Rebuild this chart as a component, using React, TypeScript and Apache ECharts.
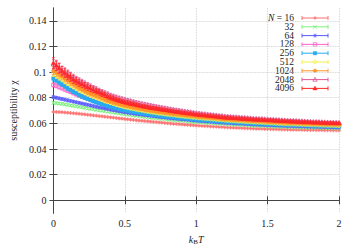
import React, { useEffect, useRef } from "react";
import * as echarts from "echarts";

const temperatures = [
  0, 0.02, 0.04, 0.06, 0.08, 0.1, 0.12, 0.14, 0.16, 0.18, 0.2,
  0.22, 0.24, 0.26, 0.28, 0.3, 0.32, 0.34, 0.36, 0.38, 0.4,
  0.42, 0.44, 0.46, 0.48, 0.5, 0.52, 0.54, 0.56, 0.58, 0.6,
  0.62, 0.64, 0.66, 0.68, 0.7, 0.72, 0.74, 0.76, 0.78, 0.8,
  0.82, 0.84, 0.86, 0.88, 0.9, 0.92, 0.94, 0.96, 0.98, 1.0,
  1.02, 1.04, 1.06, 1.08, 1.1, 1.12, 1.14, 1.16, 1.18, 1.2,
  1.22, 1.24, 1.26, 1.28, 1.3, 1.32, 1.34, 1.36, 1.38, 1.4,
  1.42, 1.44, 1.46, 1.48, 1.5, 1.52, 1.54, 1.56, 1.58, 1.6,
  1.62, 1.64, 1.66, 1.68, 1.7, 1.72, 1.74, 1.76, 1.78, 1.8,
  1.82, 1.84, 1.86, 1.88, 1.9, 1.92, 1.94, 1.96, 1.98, 2.0,
];

const sizes = ["16", "32", "64", "128", "256", "512", "1024", "2048", "4096"];

const chi16 = [
  0.0690, 0.0689, 0.0688, 0.0687, 0.0685, 0.0683, 0.0681, 0.0679, 0.0677, 0.0675, 0.0672,
  0.0670, 0.0667, 0.0665, 0.0662, 0.0660, 0.0657, 0.0655, 0.0652, 0.0650, 0.0647,
  0.0645, 0.0642, 0.0639, 0.0637, 0.0634, 0.0632, 0.0629, 0.0627, 0.0624, 0.0622,
  0.0620, 0.0618, 0.0616, 0.0614, 0.0612, 0.0610, 0.0608, 0.0606, 0.0603, 0.0601,
  0.0599, 0.0597, 0.0596, 0.0594, 0.0592, 0.0590, 0.0589, 0.0587, 0.0585, 0.0583,
  0.0582, 0.0580, 0.0579, 0.0578, 0.0576, 0.0575, 0.0574, 0.0572, 0.0571, 0.0569,
  0.0568, 0.0567, 0.0566, 0.0565, 0.0564, 0.0563, 0.0562, 0.0561, 0.0560, 0.0559,
  0.0558, 0.0558, 0.0557, 0.0556, 0.0556, 0.0555, 0.0554, 0.0554, 0.0553, 0.0552,
  0.0552, 0.0551, 0.0551, 0.0550, 0.0550, 0.0550, 0.0549, 0.0549, 0.0548, 0.0548,
  0.0548, 0.0547, 0.0547, 0.0547, 0.0546, 0.0546, 0.0546, 0.0545, 0.0545, 0.0545,
];
const err16 = [
  0.0006, 0.0006, 0.0006, 0.0006, 0.0006, 0.0006, 0.0006, 0.0006, 0.0006, 0.0006, 0.0006,
  0.0006, 0.0006, 0.0006, 0.0006, 0.0006, 0.0006, 0.0006, 0.0006, 0.0006, 0.0006,
  0.0006, 0.0006, 0.0006, 0.0006, 0.0006, 0.0006, 0.0006, 0.0006, 0.0006, 0.0006,
  0.0006, 0.0006, 0.0006, 0.0006, 0.0006, 0.0006, 0.0006, 0.0006, 0.0006, 0.0006,
  0.0006, 0.0006, 0.0006, 0.0006, 0.0006, 0.0006, 0.0006, 0.0006, 0.0006, 0.0006,
  0.0005, 0.0005, 0.0005, 0.0005, 0.0005, 0.0005, 0.0005, 0.0005, 0.0005, 0.0005,
  0.0005, 0.0005, 0.0005, 0.0005, 0.0005, 0.0005, 0.0005, 0.0005, 0.0005, 0.0005,
  0.0005, 0.0005, 0.0005, 0.0005, 0.0005, 0.0005, 0.0005, 0.0005, 0.0005, 0.0005,
  0.0005, 0.0005, 0.0005, 0.0005, 0.0005, 0.0005, 0.0005, 0.0005, 0.0005, 0.0005,
  0.0005, 0.0005, 0.0005, 0.0005, 0.0005, 0.0005, 0.0005, 0.0005, 0.0005, 0.0005,
];

const chi32 = [
  0.0760, 0.0758, 0.0755, 0.0752, 0.0748, 0.0744, 0.0740, 0.0737, 0.0733, 0.0729, 0.0725,
  0.0721, 0.0717, 0.0713, 0.0710, 0.0706, 0.0702, 0.0699, 0.0695, 0.0692, 0.0688,
  0.0685, 0.0681, 0.0678, 0.0674, 0.0671, 0.0668, 0.0665, 0.0662, 0.0659, 0.0656,
  0.0653, 0.0650, 0.0648, 0.0645, 0.0643, 0.0640, 0.0638, 0.0635, 0.0633, 0.0630,
  0.0628, 0.0626, 0.0624, 0.0622, 0.0620, 0.0618, 0.0616, 0.0614, 0.0612, 0.0610,
  0.0608, 0.0607, 0.0605, 0.0604, 0.0602, 0.0600, 0.0599, 0.0597, 0.0596, 0.0594,
  0.0593, 0.0592, 0.0590, 0.0589, 0.0588, 0.0587, 0.0586, 0.0585, 0.0583, 0.0582,
  0.0581, 0.0580, 0.0579, 0.0578, 0.0577, 0.0576, 0.0575, 0.0574, 0.0573, 0.0572,
  0.0571, 0.0571, 0.0570, 0.0569, 0.0569, 0.0568, 0.0567, 0.0567, 0.0566, 0.0565,
  0.0565, 0.0564, 0.0564, 0.0563, 0.0563, 0.0562, 0.0562, 0.0561, 0.0561, 0.0560,
];
const err32 = [
  0.0008, 0.0008, 0.0008, 0.0008, 0.0008, 0.0008, 0.0008, 0.0008, 0.0008, 0.0008, 0.0008,
  0.0008, 0.0008, 0.0008, 0.0008, 0.0008, 0.0008, 0.0008, 0.0008, 0.0008, 0.0008,
  0.0007, 0.0007, 0.0007, 0.0007, 0.0007, 0.0007, 0.0007, 0.0007, 0.0007, 0.0007,
  0.0007, 0.0007, 0.0007, 0.0007, 0.0007, 0.0006, 0.0006, 0.0006, 0.0006, 0.0006,
  0.0006, 0.0006, 0.0006, 0.0006, 0.0006, 0.0006, 0.0006, 0.0006, 0.0006, 0.0006,
  0.0005, 0.0005, 0.0005, 0.0005, 0.0005, 0.0005, 0.0005, 0.0005, 0.0005, 0.0005,
  0.0005, 0.0005, 0.0005, 0.0005, 0.0005, 0.0005, 0.0005, 0.0005, 0.0005, 0.0005,
  0.0005, 0.0005, 0.0005, 0.0005, 0.0005, 0.0004, 0.0004, 0.0004, 0.0004, 0.0004,
  0.0004, 0.0004, 0.0004, 0.0004, 0.0004, 0.0004, 0.0004, 0.0004, 0.0004, 0.0004,
  0.0004, 0.0004, 0.0004, 0.0004, 0.0004, 0.0004, 0.0004, 0.0004, 0.0004, 0.0004,
];

const chi64 = [
  0.0805, 0.0800, 0.0795, 0.0790, 0.0785, 0.0780, 0.0775, 0.0770, 0.0765, 0.0760, 0.0755,
  0.0750, 0.0745, 0.0740, 0.0735, 0.0730, 0.0725, 0.0721, 0.0716, 0.0712, 0.0707,
  0.0703, 0.0699, 0.0695, 0.0691, 0.0687, 0.0683, 0.0680, 0.0676, 0.0673, 0.0670,
  0.0667, 0.0664, 0.0661, 0.0658, 0.0656, 0.0653, 0.0650, 0.0648, 0.0645, 0.0642,
  0.0640, 0.0638, 0.0635, 0.0633, 0.0631, 0.0629, 0.0627, 0.0625, 0.0622, 0.0620,
  0.0618, 0.0617, 0.0615, 0.0613, 0.0612, 0.0610, 0.0608, 0.0606, 0.0605, 0.0603,
  0.0602, 0.0601, 0.0599, 0.0598, 0.0597, 0.0596, 0.0594, 0.0593, 0.0592, 0.0590,
  0.0589, 0.0588, 0.0587, 0.0586, 0.0585, 0.0584, 0.0583, 0.0582, 0.0581, 0.0580,
  0.0579, 0.0578, 0.0578, 0.0577, 0.0576, 0.0575, 0.0575, 0.0574, 0.0573, 0.0572,
  0.0572, 0.0571, 0.0570, 0.0570, 0.0569, 0.0569, 0.0568, 0.0567, 0.0567, 0.0566,
];
const err64 = [
  0.0010, 0.0010, 0.0010, 0.0010, 0.0010, 0.0010, 0.0009, 0.0009, 0.0009, 0.0009, 0.0009,
  0.0009, 0.0009, 0.0009, 0.0009, 0.0009, 0.0008, 0.0008, 0.0008, 0.0008, 0.0008,
  0.0008, 0.0008, 0.0008, 0.0008, 0.0008, 0.0008, 0.0008, 0.0008, 0.0008, 0.0008,
  0.0007, 0.0007, 0.0007, 0.0007, 0.0007, 0.0007, 0.0007, 0.0007, 0.0007, 0.0007,
  0.0006, 0.0006, 0.0006, 0.0006, 0.0006, 0.0006, 0.0006, 0.0006, 0.0006, 0.0006,
  0.0006, 0.0006, 0.0006, 0.0006, 0.0006, 0.0006, 0.0006, 0.0006, 0.0006, 0.0006,
  0.0005, 0.0005, 0.0005, 0.0005, 0.0005, 0.0005, 0.0005, 0.0005, 0.0005, 0.0005,
  0.0005, 0.0005, 0.0005, 0.0005, 0.0005, 0.0005, 0.0005, 0.0005, 0.0005, 0.0005,
  0.0004, 0.0004, 0.0004, 0.0004, 0.0004, 0.0004, 0.0004, 0.0004, 0.0004, 0.0004,
  0.0004, 0.0004, 0.0004, 0.0004, 0.0004, 0.0004, 0.0004, 0.0004, 0.0004, 0.0004,
];

const chi128 = [
  0.0900, 0.0893, 0.0884, 0.0875, 0.0865, 0.0856, 0.0846, 0.0836, 0.0827, 0.0818, 0.0810,
  0.0802, 0.0794, 0.0786, 0.0778, 0.0770, 0.0764, 0.0758, 0.0752, 0.0746, 0.0740,
  0.0735, 0.0729, 0.0723, 0.0718, 0.0713, 0.0709, 0.0705, 0.0700, 0.0696, 0.0692,
  0.0689, 0.0685, 0.0682, 0.0678, 0.0675, 0.0672, 0.0669, 0.0666, 0.0663, 0.0660,
  0.0658, 0.0655, 0.0653, 0.0651, 0.0648, 0.0646, 0.0644, 0.0642, 0.0639, 0.0637,
  0.0635, 0.0634, 0.0632, 0.0630, 0.0628, 0.0627, 0.0625, 0.0623, 0.0622, 0.0620,
  0.0619, 0.0618, 0.0616, 0.0615, 0.0614, 0.0613, 0.0611, 0.0610, 0.0609, 0.0607,
  0.0606, 0.0605, 0.0604, 0.0603, 0.0602, 0.0601, 0.0600, 0.0599, 0.0598, 0.0597,
  0.0596, 0.0596, 0.0595, 0.0594, 0.0594, 0.0593, 0.0592, 0.0592, 0.0591, 0.0590,
  0.0590, 0.0589, 0.0588, 0.0588, 0.0587, 0.0587, 0.0586, 0.0585, 0.0585, 0.0584,
];
const err128 = [
  0.0014, 0.0014, 0.0014, 0.0013, 0.0013, 0.0013, 0.0013, 0.0012, 0.0012, 0.0012, 0.0012,
  0.0011, 0.0011, 0.0011, 0.0011, 0.0011, 0.0010, 0.0010, 0.0010, 0.0010, 0.0010,
  0.0009, 0.0009, 0.0009, 0.0009, 0.0009, 0.0008, 0.0008, 0.0008, 0.0008, 0.0008,
  0.0008, 0.0008, 0.0008, 0.0008, 0.0008, 0.0007, 0.0007, 0.0007, 0.0007, 0.0007,
  0.0007, 0.0007, 0.0007, 0.0007, 0.0007, 0.0007, 0.0007, 0.0007, 0.0007, 0.0007,
  0.0006, 0.0006, 0.0006, 0.0006, 0.0006, 0.0006, 0.0006, 0.0006, 0.0006, 0.0006,
  0.0006, 0.0006, 0.0006, 0.0006, 0.0006, 0.0006, 0.0006, 0.0006, 0.0006, 0.0006,
  0.0005, 0.0005, 0.0005, 0.0005, 0.0005, 0.0005, 0.0005, 0.0005, 0.0005, 0.0005,
  0.0005, 0.0005, 0.0005, 0.0005, 0.0005, 0.0005, 0.0005, 0.0005, 0.0005, 0.0005,
  0.0004, 0.0004, 0.0004, 0.0004, 0.0004, 0.0004, 0.0004, 0.0004, 0.0004, 0.0004,
];

const chi256 = [
  0.0950, 0.0936, 0.0921, 0.0906, 0.0890, 0.0875, 0.0861, 0.0848, 0.0836, 0.0822, 0.0810,
  0.0800, 0.0791, 0.0782, 0.0773, 0.0765, 0.0757, 0.0750, 0.0743, 0.0736, 0.0730,
  0.0724, 0.0718, 0.0712, 0.0707, 0.0702, 0.0698, 0.0694, 0.0690, 0.0686, 0.0682,
  0.0679, 0.0676, 0.0672, 0.0669, 0.0666, 0.0664, 0.0661, 0.0658, 0.0655, 0.0652,
  0.0650, 0.0648, 0.0645, 0.0643, 0.0641, 0.0639, 0.0637, 0.0635, 0.0632, 0.0630,
  0.0628, 0.0627, 0.0625, 0.0623, 0.0622, 0.0620, 0.0618, 0.0617, 0.0615, 0.0613,
  0.0612, 0.0611, 0.0610, 0.0608, 0.0607, 0.0606, 0.0605, 0.0603, 0.0602, 0.0600,
  0.0599, 0.0598, 0.0597, 0.0596, 0.0595, 0.0594, 0.0593, 0.0592, 0.0591, 0.0590,
  0.0589, 0.0589, 0.0588, 0.0587, 0.0587, 0.0586, 0.0585, 0.0585, 0.0584, 0.0583,
  0.0583, 0.0582, 0.0581, 0.0581, 0.0580, 0.0580, 0.0579, 0.0578, 0.0578, 0.0577,
];
const err256 = [
  0.0020, 0.0019, 0.0019, 0.0018, 0.0017, 0.0017, 0.0016, 0.0015, 0.0015, 0.0014, 0.0014,
  0.0013, 0.0013, 0.0013, 0.0013, 0.0013, 0.0012, 0.0012, 0.0012, 0.0012, 0.0012,
  0.0011, 0.0011, 0.0011, 0.0011, 0.0011, 0.0010, 0.0010, 0.0010, 0.0010, 0.0010,
  0.0009, 0.0009, 0.0009, 0.0009, 0.0009, 0.0008, 0.0008, 0.0008, 0.0008, 0.0008,
  0.0008, 0.0008, 0.0008, 0.0008, 0.0008, 0.0008, 0.0008, 0.0008, 0.0008, 0.0008,
  0.0007, 0.0007, 0.0007, 0.0007, 0.0007, 0.0007, 0.0007, 0.0007, 0.0007, 0.0007,
  0.0006, 0.0006, 0.0006, 0.0006, 0.0006, 0.0006, 0.0006, 0.0006, 0.0006, 0.0006,
  0.0006, 0.0006, 0.0006, 0.0006, 0.0006, 0.0006, 0.0006, 0.0006, 0.0006, 0.0006,
  0.0005, 0.0005, 0.0005, 0.0005, 0.0005, 0.0005, 0.0005, 0.0005, 0.0005, 0.0005,
  0.0005, 0.0005, 0.0005, 0.0005, 0.0005, 0.0005, 0.0005, 0.0005, 0.0005, 0.0005,
];

const chi512 = [
  0.0990, 0.0974, 0.0960, 0.0946, 0.0931, 0.0915, 0.0901, 0.0888, 0.0875, 0.0862, 0.0850,
  0.0840, 0.0829, 0.0819, 0.0810, 0.0800, 0.0792, 0.0784, 0.0775, 0.0768, 0.0760,
  0.0753, 0.0746, 0.0740, 0.0734, 0.0728, 0.0723, 0.0718, 0.0714, 0.0709, 0.0705,
  0.0701, 0.0697, 0.0693, 0.0689, 0.0686, 0.0682, 0.0679, 0.0676, 0.0673, 0.0670,
  0.0667, 0.0665, 0.0662, 0.0659, 0.0657, 0.0654, 0.0652, 0.0650, 0.0647, 0.0645,
  0.0643, 0.0641, 0.0639, 0.0637, 0.0635, 0.0633, 0.0631, 0.0629, 0.0627, 0.0625,
  0.0623, 0.0622, 0.0620, 0.0619, 0.0617, 0.0616, 0.0615, 0.0613, 0.0612, 0.0610,
  0.0609, 0.0608, 0.0607, 0.0606, 0.0604, 0.0603, 0.0602, 0.0601, 0.0599, 0.0598,
  0.0597, 0.0596, 0.0595, 0.0595, 0.0594, 0.0593, 0.0592, 0.0591, 0.0590, 0.0589,
  0.0588, 0.0588, 0.0587, 0.0586, 0.0586, 0.0585, 0.0584, 0.0584, 0.0583, 0.0582,
];
const err512 = [
  0.0024, 0.0023, 0.0022, 0.0021, 0.0021, 0.0020, 0.0019, 0.0018, 0.0018, 0.0017, 0.0016,
  0.0016, 0.0015, 0.0015, 0.0014, 0.0014, 0.0013, 0.0013, 0.0013, 0.0012, 0.0012,
  0.0011, 0.0011, 0.0011, 0.0011, 0.0011, 0.0010, 0.0010, 0.0010, 0.0010, 0.0010,
  0.0009, 0.0009, 0.0009, 0.0009, 0.0009, 0.0009, 0.0009, 0.0009, 0.0009, 0.0009,
  0.0008, 0.0008, 0.0008, 0.0008, 0.0008, 0.0008, 0.0008, 0.0008, 0.0008, 0.0008,
  0.0007, 0.0007, 0.0007, 0.0007, 0.0007, 0.0007, 0.0007, 0.0007, 0.0007, 0.0007,
  0.0007, 0.0007, 0.0007, 0.0007, 0.0007, 0.0007, 0.0007, 0.0007, 0.0007, 0.0007,
  0.0006, 0.0006, 0.0006, 0.0006, 0.0006, 0.0006, 0.0006, 0.0006, 0.0006, 0.0006,
  0.0006, 0.0006, 0.0006, 0.0006, 0.0006, 0.0006, 0.0006, 0.0006, 0.0006, 0.0006,
  0.0005, 0.0005, 0.0005, 0.0005, 0.0005, 0.0005, 0.0005, 0.0005, 0.0005, 0.0005,
];

const chi1024 = [
  0.1010, 0.0995, 0.0980, 0.0966, 0.0950, 0.0935, 0.0921, 0.0906, 0.0891, 0.0878, 0.0865,
  0.0854, 0.0843, 0.0833, 0.0824, 0.0815, 0.0806, 0.0797, 0.0788, 0.0780, 0.0772,
  0.0765, 0.0759, 0.0752, 0.0746, 0.0740, 0.0735, 0.0730, 0.0724, 0.0720, 0.0715,
  0.0711, 0.0707, 0.0703, 0.0699, 0.0696, 0.0692, 0.0689, 0.0686, 0.0683, 0.0680,
  0.0677, 0.0674, 0.0671, 0.0669, 0.0666, 0.0663, 0.0661, 0.0658, 0.0656, 0.0653,
  0.0651, 0.0649, 0.0647, 0.0645, 0.0643, 0.0641, 0.0639, 0.0637, 0.0634, 0.0632,
  0.0631, 0.0630, 0.0628, 0.0627, 0.0626, 0.0624, 0.0623, 0.0621, 0.0620, 0.0618,
  0.0617, 0.0616, 0.0615, 0.0614, 0.0612, 0.0611, 0.0610, 0.0609, 0.0607, 0.0606,
  0.0605, 0.0604, 0.0603, 0.0603, 0.0602, 0.0601, 0.0600, 0.0599, 0.0598, 0.0597,
  0.0596, 0.0596, 0.0595, 0.0594, 0.0594, 0.0593, 0.0592, 0.0591, 0.0591, 0.0590,
];
const err1024 = [
  0.0030, 0.0029, 0.0028, 0.0027, 0.0026, 0.0025, 0.0024, 0.0023, 0.0022, 0.0021, 0.0020,
  0.0019, 0.0019, 0.0018, 0.0017, 0.0017, 0.0016, 0.0016, 0.0015, 0.0015, 0.0014,
  0.0014, 0.0013, 0.0013, 0.0013, 0.0012, 0.0012, 0.0012, 0.0011, 0.0011, 0.0011,
  0.0010, 0.0010, 0.0010, 0.0010, 0.0010, 0.0009, 0.0009, 0.0009, 0.0009, 0.0009,
  0.0009, 0.0009, 0.0009, 0.0009, 0.0009, 0.0008, 0.0008, 0.0008, 0.0008, 0.0008,
  0.0008, 0.0008, 0.0008, 0.0008, 0.0008, 0.0008, 0.0008, 0.0008, 0.0008, 0.0008,
  0.0007, 0.0007, 0.0007, 0.0007, 0.0007, 0.0007, 0.0007, 0.0007, 0.0007, 0.0007,
  0.0007, 0.0007, 0.0007, 0.0007, 0.0007, 0.0007, 0.0007, 0.0007, 0.0007, 0.0007,
  0.0006, 0.0006, 0.0006, 0.0006, 0.0006, 0.0006, 0.0006, 0.0006, 0.0006, 0.0006,
  0.0006, 0.0006, 0.0006, 0.0006, 0.0006, 0.0006, 0.0006, 0.0006, 0.0006, 0.0006,
];

const chi2048 = [
  0.1060, 0.1046, 0.1031, 0.1013, 0.1001, 0.0986, 0.0970, 0.0955, 0.0941, 0.0931, 0.0920,
  0.0908, 0.0897, 0.0887, 0.0875, 0.0866, 0.0855, 0.0846, 0.0836, 0.0828, 0.0818,
  0.0811, 0.0804, 0.0797, 0.0791, 0.0785, 0.0779, 0.0774, 0.0768, 0.0763, 0.0758,
  0.0753, 0.0749, 0.0744, 0.0740, 0.0735, 0.0731, 0.0727, 0.0723, 0.0719, 0.0715,
  0.0711, 0.0708, 0.0704, 0.0701, 0.0697, 0.0694, 0.0691, 0.0688, 0.0684, 0.0680,
  0.0678, 0.0675, 0.0673, 0.0670, 0.0668, 0.0665, 0.0663, 0.0660, 0.0658, 0.0655,
  0.0654, 0.0652, 0.0650, 0.0649, 0.0647, 0.0645, 0.0644, 0.0642, 0.0640, 0.0638,
  0.0637, 0.0636, 0.0635, 0.0633, 0.0632, 0.0631, 0.0630, 0.0628, 0.0627, 0.0625,
  0.0624, 0.0623, 0.0622, 0.0621, 0.0620, 0.0618, 0.0617, 0.0616, 0.0615, 0.0613,
  0.0612, 0.0612, 0.0611, 0.0610, 0.0609, 0.0608, 0.0608, 0.0607, 0.0606, 0.0605,
];
const err2048 = [
  0.0038, 0.0036, 0.0035, 0.0033, 0.0032, 0.0030, 0.0029, 0.0028, 0.0026, 0.0025, 0.0024,
  0.0023, 0.0022, 0.0021, 0.0021, 0.0020, 0.0019, 0.0018, 0.0018, 0.0017, 0.0017,
  0.0016, 0.0016, 0.0015, 0.0015, 0.0014, 0.0014, 0.0014, 0.0013, 0.0013, 0.0013,
  0.0012, 0.0012, 0.0012, 0.0012, 0.0012, 0.0011, 0.0011, 0.0011, 0.0011, 0.0011,
  0.0010, 0.0010, 0.0010, 0.0010, 0.0010, 0.0009, 0.0009, 0.0009, 0.0009, 0.0009,
  0.0009, 0.0009, 0.0009, 0.0009, 0.0009, 0.0009, 0.0009, 0.0009, 0.0009, 0.0009,
  0.0008, 0.0008, 0.0008, 0.0008, 0.0008, 0.0008, 0.0008, 0.0008, 0.0008, 0.0008,
  0.0007, 0.0007, 0.0007, 0.0007, 0.0007, 0.0007, 0.0007, 0.0007, 0.0007, 0.0007,
  0.0007, 0.0007, 0.0007, 0.0007, 0.0007, 0.0007, 0.0007, 0.0007, 0.0007, 0.0007,
  0.0006, 0.0006, 0.0006, 0.0006, 0.0006, 0.0006, 0.0006, 0.0006, 0.0006, 0.0006,
];

const chi4096 = [
  0.1070, 0.1052, 0.1031, 0.1008, 0.0992, 0.0974, 0.0961, 0.0943, 0.0931, 0.0916, 0.0905,
  0.0893, 0.0882, 0.0871, 0.0862, 0.0851, 0.0843, 0.0831, 0.0822, 0.0811, 0.0802,
  0.0795, 0.0786, 0.0779, 0.0772, 0.0766, 0.0761, 0.0754, 0.0751, 0.0745, 0.0740,
  0.0735, 0.0731, 0.0727, 0.0722, 0.0719, 0.0716, 0.0712, 0.0708, 0.0705, 0.0701,
  0.0697, 0.0694, 0.0690, 0.0688, 0.0684, 0.0681, 0.0678, 0.0676, 0.0672, 0.0669,
  0.0666, 0.0664, 0.0662, 0.0659, 0.0657, 0.0655, 0.0653, 0.0650, 0.0648, 0.0645,
  0.0644, 0.0642, 0.0641, 0.0639, 0.0638, 0.0636, 0.0635, 0.0633, 0.0632, 0.0630,
  0.0629, 0.0628, 0.0627, 0.0626, 0.0624, 0.0623, 0.0622, 0.0621, 0.0619, 0.0618,
  0.0617, 0.0616, 0.0615, 0.0614, 0.0613, 0.0612, 0.0611, 0.0610, 0.0609, 0.0608,
  0.0607, 0.0607, 0.0606, 0.0605, 0.0604, 0.0603, 0.0603, 0.0602, 0.0601, 0.0600,
];
const err4096 = [
  0.0042, 0.0040, 0.0039, 0.0037, 0.0035, 0.0034, 0.0032, 0.0031, 0.0029, 0.0028, 0.0027,
  0.0026, 0.0025, 0.0024, 0.0023, 0.0022, 0.0021, 0.0021, 0.0020, 0.0019, 0.0019,
  0.0018, 0.0018, 0.0017, 0.0017, 0.0016, 0.0016, 0.0015, 0.0015, 0.0015, 0.0014,
  0.0014, 0.0014, 0.0013, 0.0013, 0.0013, 0.0012, 0.0012, 0.0012, 0.0012, 0.0011,
  0.0011, 0.0011, 0.0011, 0.0010, 0.0010, 0.0010, 0.0010, 0.0010, 0.0009, 0.0009,
  0.0009, 0.0009, 0.0009, 0.0009, 0.0009, 0.0009, 0.0009, 0.0009, 0.0009, 0.0009,
  0.0008, 0.0008, 0.0008, 0.0008, 0.0008, 0.0008, 0.0008, 0.0008, 0.0008, 0.0008,
  0.0008, 0.0008, 0.0008, 0.0008, 0.0008, 0.0008, 0.0008, 0.0008, 0.0008, 0.0008,
  0.0007, 0.0007, 0.0007, 0.0007, 0.0007, 0.0007, 0.0007, 0.0007, 0.0007, 0.0007,
  0.0007, 0.0007, 0.0007, 0.0007, 0.0007, 0.0007, 0.0007, 0.0007, 0.0007, 0.0007,
];

const chiValues = [chi16, chi32, chi64, chi128, chi256, chi512, chi1024, chi2048, chi4096];
const errValues = [err16, err32, err64, err128, err256, err512, err1024, err2048, err4096];

const seriesColors = [
  "#ff6e6e", "#7cf07c", "#5a5aff", "#ff64c8", "#28aaf0",
  "#f5f046", "#ff9628", "#e05a96", "#ff2828",
];
const markerKinds = ["plus", "cross", "star", "osquare", "fsquare", "ocircle", "fcircle", "otri", "ftri"];

const yTickValues = [0, 0.02, 0.04, 0.06, 0.08, 0.1, 0.12, 0.14];
const xTickInterval = 0.5;

const FONT = "Liberation Serif";
const AXIS_COLOR = "#444";

function markerShapes(kind: string, cx: number, cy: number, r: number, color: string): any[] {
  const stroke = { stroke: color, lineWidth: 0.8, fill: "none" };
  const filled = { fill: color, stroke: color, lineWidth: 0.4 };
  const line = (x1: number, y1: number, x2: number, y2: number) => ({
    type: "line",
    shape: { x1, y1, x2, y2 },
    style: stroke,
  });
  const tri = [
    [cx, cy - r * 1.2],
    [cx - r * 1.15, cy + r * 0.85],
    [cx + r * 1.15, cy + r * 0.85],
  ];
  switch (kind) {
    case "plus":
      return [line(cx - r, cy, cx + r, cy), line(cx, cy - r, cx, cy + r)];
    case "cross":
      return [line(cx - r, cy - r, cx + r, cy + r), line(cx - r, cy + r, cx + r, cy - r)];
    case "star":
      return [
        line(cx - r, cy, cx + r, cy),
        line(cx, cy - r, cx, cy + r),
        line(cx - r * 0.75, cy - r * 0.75, cx + r * 0.75, cy + r * 0.75),
        line(cx - r * 0.75, cy + r * 0.75, cx + r * 0.75, cy - r * 0.75),
      ];
    case "osquare":
      return [{ type: "rect", shape: { x: cx - r * 0.9, y: cy - r * 0.9, width: r * 1.8, height: r * 1.8 }, style: stroke }];
    case "fsquare":
      return [{ type: "rect", shape: { x: cx - r * 0.9, y: cy - r * 0.9, width: r * 1.8, height: r * 1.8 }, style: filled }];
    case "ocircle":
      return [{ type: "circle", shape: { cx, cy, r: r * 0.95 }, style: stroke }];
    case "fcircle":
      return [{ type: "circle", shape: { cx, cy, r: r * 0.95 }, style: filled }];
    case "otri":
      return [{ type: "polygon", shape: { points: tri }, style: stroke }];
    case "ftri":
      return [{ type: "polygon", shape: { points: tri }, style: filled }];
  }
  return [];
}

function makeRenderItem(kind: string, color: string) {
  return (_params: any, api: any) => {
    const t = api.value(0);
    const v = api.value(1);
    const e = api.value(2);
    const c = api.coord([t, v]);
    const hi = api.coord([t, v + e]);
    const lo = api.coord([t, v - e]);
    const cap = 1.4;
    const st = { stroke: color, lineWidth: 0.8 };
    return {
      type: "group",
      children: [
        { type: "line", shape: { x1: c[0], y1: hi[1], x2: c[0], y2: lo[1] }, style: st },
        { type: "line", shape: { x1: c[0] - cap, y1: hi[1], x2: c[0] + cap, y2: hi[1] }, style: st },
        { type: "line", shape: { x1: c[0] - cap, y1: lo[1], x2: c[0] + cap, y2: lo[1] }, style: st },
        ...markerShapes(kind, c[0], c[1], 2.0, color),
      ],
    };
  };
}

function buildLegend(): any[] {
  const textRight = 294;
  const x1 = 302;
  const x2 = 328;
  const top = 18;
  const step = 8.8;
  const out: any[] = [];
  sizes.forEach((n, i) => {
    const y = top + i * step;
    const color = seriesColors[i];
    const st = { stroke: color, lineWidth: 1 };
    out.push({
      type: "text",
      x: textRight,
      y,
      style: {
        text: i === 0 ? "{it|N} = " + n : n,
        align: "right",
        verticalAlign: "middle",
        fill: "#222",
        fontFamily: FONT,
        fontSize: 9.5,
        lineHeight: 8.6,
        rich: { it: { fontStyle: "italic", fontFamily: FONT, fontSize: 9.5, lineHeight: 8.6, fill: "#222" } },
      },
      silent: true,
    });
    out.push({ type: "line", shape: { x1, y1: y, x2, y2: y }, style: st, silent: true });
    out.push({ type: "line", shape: { x1, y1: y - 2, x2: x1, y2: y + 2 }, style: st, silent: true });
    out.push({ type: "line", shape: { x1: x2, y1: y - 2, x2: x2, y2: y + 2 }, style: st, silent: true });
    markerShapes(markerKinds[i], (x1 + x2) / 2, y, 1.9, color).forEach((m) => out.push({ ...m, silent: true }));
  });
  return out;
}

const fmt = (v: number) => String(Number(v.toFixed(2)));

export default function App() {
  const ref = useRef<HTMLDivElement>(null);
  useEffect(() => {
    if (!ref.current) return;
    const chart = echarts.init(ref.current, null, { renderer: "svg" });
    const series: any[] = sizes.map((n, i) => ({
      type: "custom",
      name: "N = " + n,
      renderItem: makeRenderItem(markerKinds[i], seriesColors[i]),
      encode: { x: 0, y: 1 },
      data: temperatures.map((t, k) => [t, chiValues[i][k], errValues[i][k]]),
      silent: true,
      ...(i === 0
        ? {
            markLine: {
              silent: true,
              symbol: ["none", "none"],
              label: { show: false },
              lineStyle: { color: AXIS_COLOR, type: "solid", width: 1 },
              data: [{ yAxis: 0 }],
            },
          }
        : {}),
    }));
    chart.setOption({
      animation: false,
      backgroundColor: "#fff",
      textStyle: { fontFamily: FONT },
      grid: { left: 42, right: 19, top: 8, bottom: 30 },
      xAxis: [
        {
          type: "value",
          min: 0,
          max: 2,
          interval: xTickInterval,
          position: "bottom",
          axisLine: { show: true, lineStyle: { color: AXIS_COLOR, width: 1 } },
          axisTick: { show: true, inside: true, length: 4, lineStyle: { color: AXIS_COLOR } },
          axisLabel: { color: "#222", fontFamily: FONT, fontSize: 10, margin: 5, formatter: fmt },
          splitLine: { show: true, lineStyle: { type: "dotted", color: "#c8c8c8", width: 0.8 } },
          name: "{i|k}{s|B}{i|T}",
          nameLocation: "middle",
          nameGap: 17,
          nameTextStyle: {
            fontFamily: FONT,
            rich: {
              i: { fontStyle: "italic", fontFamily: FONT, fontSize: 10, color: "#222", lineHeight: 12 },
              s: { fontFamily: FONT, fontSize: 7, color: "#222", lineHeight: 12, padding: [5, 0, 0, 0] },
            },
          },
        },
        {
          type: "value",
          min: 0,
          max: 2,
          interval: xTickInterval,
          position: "top",
          axisLine: { show: true, lineStyle: { color: AXIS_COLOR, width: 1 } },
          axisTick: { show: true, inside: true, length: 4, lineStyle: { color: AXIS_COLOR } },
          axisLabel: { show: false },
          splitLine: { show: false },
        },
      ],
      yAxis: [
        {
          type: "value",
          min: -0.01,
          max: 0.15,
          splitNumber: 8,
          position: "left",
          axisLine: { show: true, lineStyle: { color: AXIS_COLOR, width: 1 } },
          axisTick: { show: true, inside: true, length: 4, lineStyle: { color: AXIS_COLOR }, customValues: yTickValues },
          axisLabel: { color: "#222", fontFamily: FONT, fontSize: 10, margin: 7, formatter: fmt, customValues: yTickValues },
          splitLine: { show: true, lineStyle: { type: "dotted", color: "#c8c8c8", width: 0.8 } },
          name: "susceptibility χ",
          nameLocation: "middle",
          nameGap: 30,
          nameTextStyle: { fontFamily: FONT, fontSize: 10, color: "#222" },
        },
        {
          type: "value",
          min: -0.01,
          max: 0.15,
          splitNumber: 8,
          position: "right",
          axisLine: { show: true, lineStyle: { color: AXIS_COLOR, width: 1 } },
          axisTick: { show: true, inside: true, length: 4, lineStyle: { color: AXIS_COLOR }, customValues: yTickValues },
          axisLabel: { show: false },
          splitLine: { show: false },
        },
      ],
      series,
      graphic: buildLegend(),
    });
    return () => chart.dispose();
  }, []);
  return <div ref={ref} style={{ position: "fixed", left: 0, top: 0, width: 358, height: 250 }} />;
}
